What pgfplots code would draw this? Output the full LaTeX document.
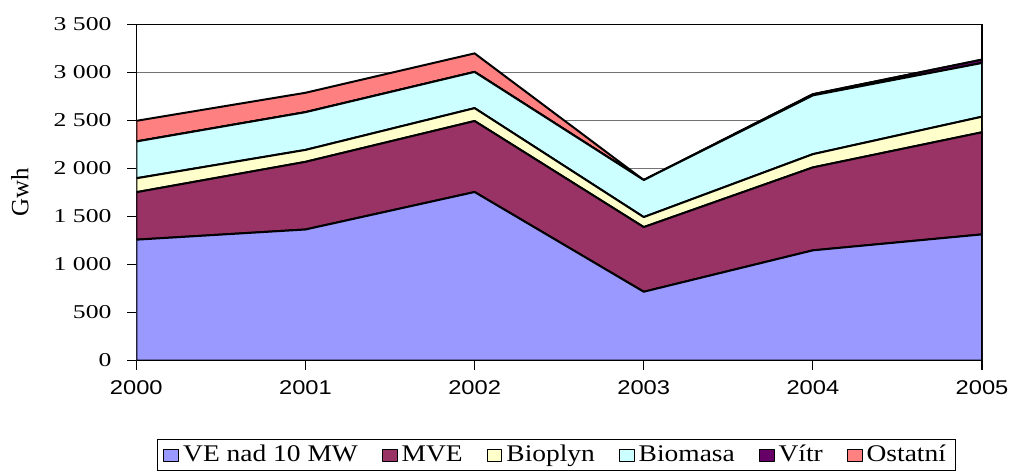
\documentclass[border=0pt]{standalone}
\usepackage{fontspec}
\usepackage{pgfplots}
\usepackage{pgfplotstable}
\pgfplotsset{compat=1.18}
\setmainfont{Liberation Serif}
\newfontfamily\ytfont[FakeStretch=1.31]{Liberation Serif}
\newfontfamily\xtfont[FakeStretch=1.19]{Liberation Sans}
\newfontfamily\lgfont[FakeStretch=1.15]{Liberation Serif}
\definecolor{ve}{HTML}{9999FF}
\definecolor{mve}{HTML}{993366}
\definecolor{bioplyn}{HTML}{FFFFCC}
\definecolor{biomasa}{HTML}{CCFFFF}
\definecolor{vitr}{HTML}{660066}
\definecolor{ostatni}{HTML}{FF8080}

\pgfplotstableread{
year ve   mve  bioplyn biomasa vitr ostatni
2000 1258 494  145     383     0    215
2001 1364 704  124     393     0    202
2002 1754 739  134     377     0    193
2003 716  673  104     386     0    0
2004 1147 863  138     612     12   0
2005 1313 1063 162     559     35   0
}\energy

\begin{document}
\begin{tikzpicture}
\begin{axis}[
  scale only axis,
  width=425pt,height=169pt,
  xmin=2000,xmax=2005,ymin=0,ymax=3500,
  xtick={2000,2001,2002,2003,2004,2005},
  xticklabels={2000,2001,2002,2003,2004,2005},
  ytick={0,500,...,3500},
  stack plots=y,
  ymajorgrids,
  grid style={black!55,line width=0.5pt},
  axis line style={line width=0.6pt},
  tick align=outside,xtick pos=bottom,ytick pos=left,
  major tick length=4.5pt,
  tick style={black,line width=0.6pt},
  /pgf/number format/assume math mode=true,
  /pgf/number format/1000 sep={\ },
  yticklabel style={font=\ytfont\fontsize{9.85}{10}\selectfont,xshift=-4.5pt},
  xticklabel style={font=\xtfont\fontsize{10}{10}\selectfont,yshift=-2pt},
  ylabel={Gwh},
  ylabel style={font=\fontsize{12.5}{12.5}\selectfont,at={(axis description cs:-0.1376,0.5)},anchor=center},
  every axis plot/.append style={draw=black,line width=1pt,line join=round},
  legend image code/.code={\draw[#1,line width=0.5pt] (0pt,-3pt) rectangle (7.5pt,3pt);},
  legend columns=6,
  legend style={at={(0.497,-0.233)},anchor=north,draw=black,line width=0.5pt,
    inner ysep=1pt,
    font=\lgfont\fontsize{12}{12}\selectfont,
    /tikz/every even column/.append style={column sep=10pt}},
]
\addplot[fill=ve] table[x=year,y=ve]{\energy} \closedcycle;
\addplot[fill=mve] table[x=year,y=mve]{\energy} \closedcycle;
\addplot[fill=bioplyn] table[x=year,y=bioplyn]{\energy} \closedcycle;
\addplot[fill=biomasa] table[x=year,y=biomasa]{\energy} \closedcycle;
\addplot[fill=vitr] table[x=year,y=vitr]{\energy} \closedcycle;
\addplot[fill=ostatni] table[x=year,y=ostatni]{\energy} \closedcycle;
\legend{VE nad 10 MW,MVE,Bioplyn,Biomasa,Vítr,Ostatní}
\coordinate (bbA) at (rel axis cs:-0.1612,-0.318);
\coordinate (bbB) at (rel axis cs:1.0329,1.0722);
\end{axis}
\path (bbA) rectangle (bbB);
\end{tikzpicture}
\end{document}
